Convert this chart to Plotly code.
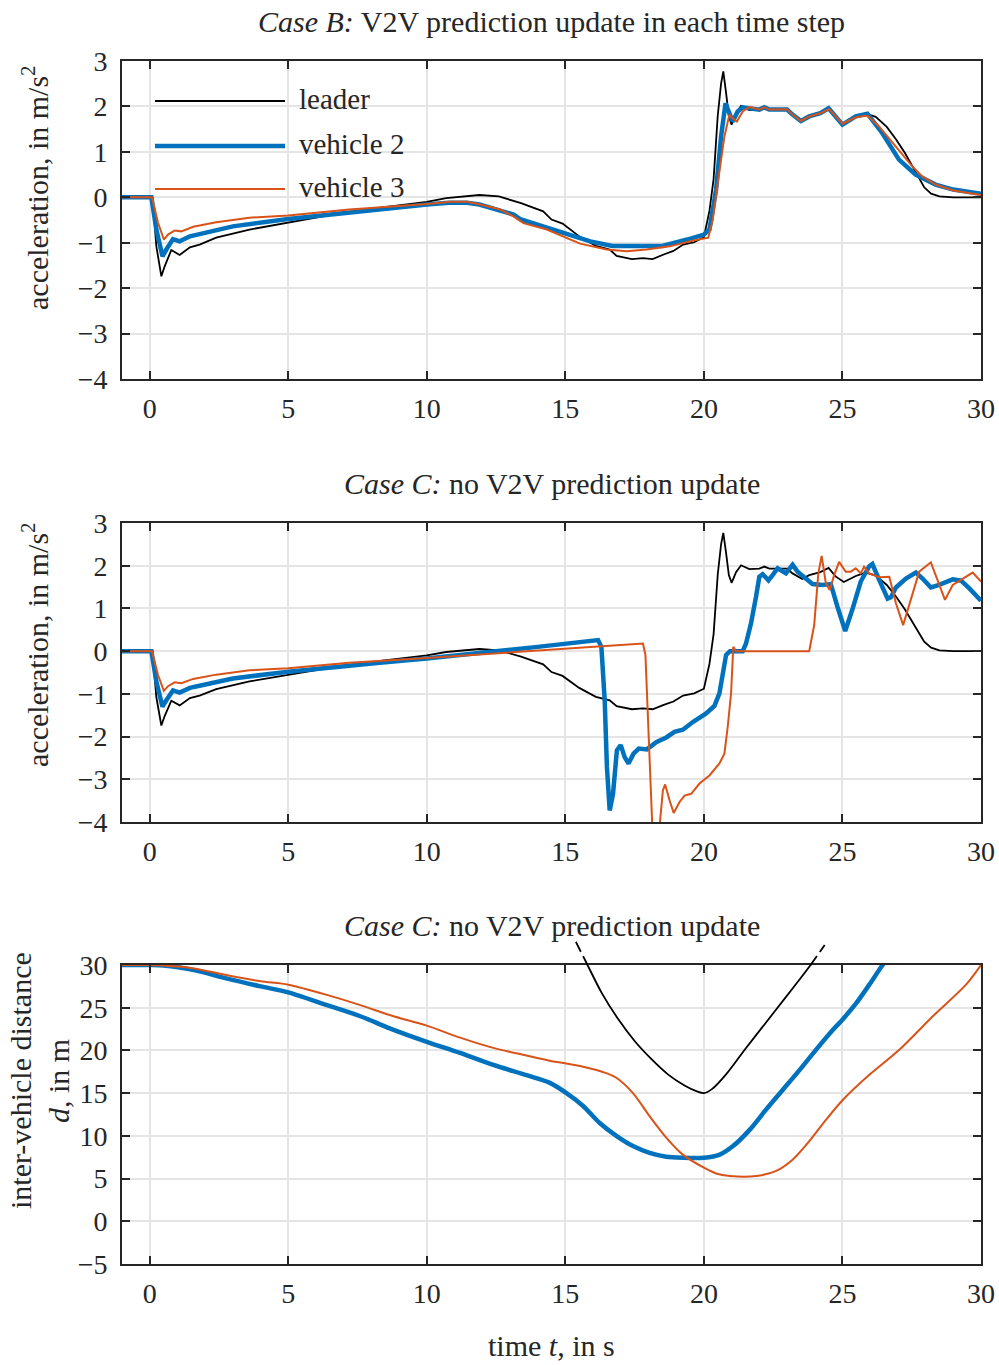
import plotly.graph_objects as go

# ---------------- data ----------------
# leader acceleration (same in both cases)
t_lead_acc = [-1, 0.1, 0.24, 0.42, 0.54, 0.78, 1.08, 1.45, 1.8, 2.4, 3.6, 5.0, 6.6, 8.4, 10.0, 10.7,
              11.9, 12.6, 13.4, 14.2, 14.5, 14.9, 15.5, 16.1, 16.6, 16.85, 17.4, 17.8, 18.15, 18.55,
              18.9, 19.25, 19.65, 20.0, 20.2, 20.35, 20.5, 20.62, 20.7, 20.8, 20.9, 21.0, 21.16, 21.34,
              21.64, 22.0, 22.18, 22.36, 23.0, 23.2, 23.55, 23.8, 24.2, 24.5, 24.75, 25.05, 25.48,
              25.85, 26.2, 26.6, 26.93, 27.25, 27.6, 27.95, 28.2, 28.5, 29.0, 30.0]
a_lead = [0, 0, -1.08, -1.74, -1.52, -1.16, -1.27, -1.1, -1.04, -0.89, -0.71, -0.55, -0.38, -0.22, -0.1,
          -0.02, 0.05, 0.02, -0.13, -0.31, -0.49, -0.58, -0.86, -1.07, -1.15, -1.29, -1.36, -1.34, -1.36,
          -1.26, -1.18, -1.04, -0.99, -0.88, -0.3, 0.4, 1.8, 2.5, 2.77, 2.3, 1.78, 1.6, 1.85, 2.01,
          1.92, 1.93, 1.98, 1.93, 1.93, 1.82, 1.69, 1.78, 1.85, 1.95, 1.75, 1.62, 1.76,
          1.84, 1.77, 1.55, 1.28, 0.98, 0.6, 0.22, 0.08, 0.02, 0.0, 0.0]

# Case B: vehicle 2
t_v2_B = [-1, 0.06, 0.24, 0.46, 0.6, 0.84, 1.08, 1.45, 1.8, 3.0, 5.0, 7.2, 8.3, 10.0, 10.8, 11.45, 11.9,
          12.65, 13.13, 13.37, 13.85, 14.9, 15.9, 16.7, 17.7, 18.5, 19.4, 20.0, 20.2, 20.44, 20.62,
          20.78, 20.92, 21.04, 21.22, 21.4, 22.0, 22.18, 22.36, 23.0, 23.2, 23.5, 23.8, 24.2, 24.5,
          25.0, 25.48, 25.9, 26.44, 27.04, 27.64, 28.36, 29.0, 30.0]
a_v2_B = [0, 0, -0.71, -1.3, -1.15, -0.92, -0.97, -0.86, -0.81, -0.64, -0.48, -0.33, -0.27, -0.16, -0.12,
          -0.12, -0.16, -0.29, -0.38, -0.48, -0.57, -0.79, -0.97, -1.07, -1.07, -1.07, -0.93, -0.82,
          -0.71, 0.17, 1.34, 2.07, 1.85, 1.67, 1.89, 1.98, 1.93, 1.98, 1.93, 1.93, 1.82, 1.68, 1.78,
          1.85, 1.96, 1.6, 1.78, 1.84, 1.41, 0.83, 0.5, 0.28, 0.17, 0.08]

# Case B: vehicle 3
t_v3_B = [-1, 0.08, 0.3, 0.51, 0.66, 0.9, 1.14, 1.57, 2.4, 3.6, 5.0, 7.2, 10.0, 10.84, 11.45, 11.92,
          12.65, 13.13, 13.49, 14.33, 15.53, 16.49, 17.21, 17.93, 18.77, 19.62, 20.16, 20.32, 20.5,
          20.74, 20.92, 21.04, 21.19, 21.4, 21.64, 22.0, 22.18, 22.36, 23.0, 23.2, 23.5, 23.8, 24.2,
          24.52, 25.0, 25.48, 25.9, 26.32, 26.92, 27.52, 27.88, 28.36, 29.0, 30.0]
a_v3_B = [0, 0, -0.56, -0.93, -0.82, -0.73, -0.75, -0.65, -0.55, -0.45, -0.4, -0.27, -0.15, -0.1, -0.1,
          -0.16, -0.27, -0.42, -0.57, -0.71, -1.02, -1.15, -1.19, -1.15, -1.08, -0.95, -0.89, -0.49,
          0.32, 1.34, 1.82, 1.74, 1.67, 1.89, 1.99, 1.93, 1.98, 1.93, 1.94, 1.82, 1.68, 1.78, 1.85,
          1.94, 1.62, 1.76, 1.8, 1.56, 1.12, 0.68, 0.46, 0.28, 0.15, 0.05]

# Case C: vehicle 2
t_v2_C = [-1, 0.06, 0.24, 0.46, 0.6, 0.84, 1.08, 1.45, 1.8, 3.0, 5.0, 7.2, 8.3, 10.0, 12.0, 14.0, 16.18,
          16.3, 16.42, 16.5, 16.6, 16.72, 16.86, 17.0, 17.14, 17.28, 17.46, 17.65, 17.94, 18.28, 18.64,
          18.94, 19.24, 19.6, 20.08, 20.38, 20.56, 20.7, 20.8, 20.94, 21.4, 21.52, 21.7, 21.88, 22.0,
          22.12, 22.33, 22.48, 22.66, 22.96, 23.2, 23.38, 23.62, 23.92, 24.28, 24.58, 24.82, 25.1,
          25.36, 25.66, 25.96, 26.08, 26.33, 26.63, 26.75, 26.93, 27.29, 27.65, 27.89, 28.19, 28.49,
          28.98, 29.28, 29.58, 30.0]
a_v2_C = [0, 0, -0.71, -1.3, -1.15, -0.92, -0.97, -0.86, -0.81, -0.64, -0.48, -0.33, -0.27, -0.17, -0.04,
          0.1, 0.26, 0.1, -1.15, -2.71, -3.73, -3.34, -2.32, -2.2, -2.48, -2.63, -2.4, -2.28, -2.3,
          -2.13, -2.02, -1.89, -1.84, -1.66, -1.46, -1.28, -0.99, -0.52, -0.09, 0.0, 0.0, 0.18, 0.65,
          1.27, 1.74, 1.8, 1.66, 1.78, 1.94, 1.82, 2.02, 1.86, 1.72, 1.57, 1.55, 1.57, 1.04, 0.47,
          0.98, 1.63, 1.98, 2.04, 1.66, 1.23, 1.26, 1.49, 1.7, 1.84, 1.7, 1.49, 1.55, 1.68, 1.65,
          1.47, 1.18]

# Case C: vehicle 3
t_v3_C = [-1, 0.08, 0.3, 0.51, 0.66, 0.9, 1.14, 1.57, 2.4, 3.6, 5.0, 7.2, 10.0, 14.0, 17.8, 17.89, 17.98,
          18.06, 18.15, 18.28, 18.4, 18.52, 18.6, 18.76, 18.91, 19.12, 19.3, 19.54, 19.84, 20.2, 20.56,
          20.74, 20.86, 20.98, 21.06, 21.16, 23.8, 23.98, 24.13, 24.25, 24.4, 24.54, 24.7, 24.88, 25.12,
          25.3, 25.48, 25.66, 25.78, 25.96, 26.33, 26.69, 26.93, 27.19, 27.47, 27.77, 28.19, 28.43,
          28.7, 28.98, 29.34, 29.7, 30.0]
a_v3_C = [0, 0, -0.56, -0.93, -0.82, -0.73, -0.75, -0.65, -0.55, -0.45, -0.4, -0.27, -0.16, 0.02, 0.18,
          -0.09, -1.54, -3.1, -4.3, -4.5, -4.1, -3.26, -3.12, -3.49, -3.79, -3.53, -3.38, -3.34, -3.1,
          -2.91, -2.63, -2.4, -1.77, -0.99, 0.1, 0.0, 0.0, 0.61, 1.82, 2.23, 1.59, 1.43, 1.78, 2.09,
          1.86, 1.86, 1.94, 1.82, 1.98, 1.82, 1.73, 1.74, 1.12, 0.61, 1.2, 1.86, 2.08, 1.66, 1.2,
          1.55, 1.7, 1.84, 1.63]

# Case C: inter-vehicle distances
t_lead_d = [15.38, 15.8, 16.3, 16.9, 17.5, 18.1, 18.7, 19.3, 19.75, 20.0, 20.3, 20.8, 21.5,
            22.2, 22.9, 23.5, 23.85, 24.36]
d_lead = [32.7, 30.0, 26.8, 23.7, 21.1, 19.0, 17.2, 15.9, 15.2, 15.0, 15.5, 17.2, 20.2,
          23.1, 26.0, 28.5, 30.0, 32.35]

t_v2_d = [-1, 0.0, 0.5, 1.6, 2.8, 4.0, 5.0, 6.4, 7.6, 8.8, 10.0, 11.2, 12.4, 13.6, 14.44, 15.04, 15.64,
          16.24, 16.84, 17.44, 18.04, 18.64, 19.24, 20.0, 20.57, 21.05, 21.65, 22.25, 22.85, 23.45,
          24.05, 24.65, 25.0, 25.49, 25.97, 26.45, 26.7]
d_v2 = [30.0, 30.0, 29.95, 29.4, 28.4, 27.5, 26.8, 25.3, 24.0, 22.4, 21.0, 19.7, 18.3, 17.1, 16.2,
        15.0, 13.5, 11.5, 10.0, 8.8, 8.0, 7.55, 7.43, 7.43, 7.8, 8.8, 10.7, 13.1, 15.4, 17.7, 20.1,
        22.4, 23.6, 25.5, 27.7, 30.0, 31.0]

t_v3_d = [-1, 0.0, 0.5, 1.6, 2.8, 4.0, 5.0, 6.4, 7.6, 8.8, 10.0, 11.2, 12.4, 13.6, 14.44, 15.64, 16.48,
          16.84, 17.44, 18.04, 18.64, 19.24, 20.0, 20.44, 20.93, 21.89, 22.61, 23.21, 23.81, 24.41,
          25.01, 25.85, 27.06, 28.26, 29.46, 30.0]
d_v3 = [30.0, 30.0, 29.95, 29.6, 28.8, 28.1, 27.7, 26.5, 25.3, 24.0, 22.9, 21.5, 20.3, 19.4, 18.8,
        18.1, 17.35, 16.8, 15.0, 12.3, 9.8, 7.8, 6.27, 5.6, 5.3, 5.3, 5.9, 7.24, 9.4, 11.9, 14.2,
        16.8, 20.1, 24.0, 27.7, 30.0]

x_ticks = [0, 5, 10, 15, 20, 25, 30]
acc_ticks = [-4, -3, -2, -1, 0, 1, 2, 3]
dist_ticks = [-5, 0, 5, 10, 15, 20, 25, 30]
series_names = ["leader", "vehicle 2", "vehicle 3"]

# ---------------- style / layout ----------------
FONT = "Liberation Serif"
FS_TICK = 28
FS_TXT = 30
TXT = "#262626"
C_LEAD, C_V2, C_V3 = "#000000", "#0072BD", "#D95319"
W_LEAD, W_V2, W_V3 = 1.8, 4.5, 2.0

W, H = 999, 1365
ML, MR, MT, MB = 122, 18, 61, 101
PH = H - MT - MB


def py(p):
    return (H - MB - p) / PH


def px(p):
    return (p - ML) / (W - ML - MR)


dom1 = [py(379), 1.0]
dom2 = [py(822), py(523)]
dom3 = [0.0, py(965)]
ext_top_px = 930
d_scale = (1264 - 965) / 35.0
dom4 = [0.0, py(ext_top_px)]
range4 = [-5, 30 + (965 - ext_top_px) / d_scale]

fig = go.Figure()


def add(t, v, color, width, xa, ya, dash=None, shape="linear"):
    fig.add_trace(go.Scatter(x=t, y=v, mode="lines", xaxis=xa, yaxis=ya, showlegend=False,
                             line=dict(color=color, width=width, dash=dash, shape=shape,
                                       smoothing=0.8 if shape == "spline" else None),
                             hoverinfo="skip"))


add(t_lead_acc, a_lead, C_LEAD, W_LEAD, "x", "y")
add(t_v2_B, a_v2_B, C_V2, W_V2, "x", "y")
add(t_v3_B, a_v3_B, C_V3, W_V3, "x", "y")

add(t_lead_acc, a_lead, C_LEAD, W_LEAD, "x2", "y2")
add(t_v2_C, a_v2_C, C_V2, W_V2, "x2", "y2")
add(t_v3_C, a_v3_C, C_V3, W_V3, "x2", "y2")

add(t_lead_d, d_lead, C_LEAD, W_LEAD, "x3", "y3", shape="spline")
add(t_v2_d, d_v2, C_V2, W_V2, "x3", "y3", shape="spline")
add(t_v3_d, d_v3, C_V3, W_V3, "x3", "y3", shape="spline")

# dashed continuation of leader distance above the axes box
dash_t, dash_d = [], []
for tt, dd in zip(t_lead_d, d_lead):
    if dd >= 30:
        dash_t.append(tt)
        dash_d.append(dd)
    elif dash_t and dash_t[-1] is not None:
        dash_t.append(None)
        dash_d.append(None)
add(dash_t, dash_d, C_LEAD, W_LEAD, "x4", "y4", dash="11px,5px")

tickfont = dict(family=FONT, size=FS_TICK, color=TXT)
common = dict(showline=True, linecolor=TXT, linewidth=1.6, mirror="ticks", ticks="inside",
              ticklen=8, tickwidth=1.5, tickcolor=TXT, showgrid=True, gridcolor="#e5e5e5",
              gridwidth=1.5, zeroline=False, tickfont=tickfont, layer="above traces",
              automargin=False)
xcommon = dict(common, range=[-1, 30], tickvals=x_ticks, ticklabelstandoff=4, domain=[0, 1])
ycommon = dict(common, ticklabelstandoff=7)

layout = dict(
    width=W, height=H, margin=dict(l=ML, r=MR, t=MT, b=MB, autoexpand=False),
    paper_bgcolor="white", plot_bgcolor="rgba(0,0,0,0)", showlegend=False,
    font=dict(family=FONT, size=FS_TXT, color=TXT),
    xaxis=dict(xcommon, anchor="y"),
    xaxis2=dict(xcommon, anchor="y2"),
    xaxis3=dict(xcommon, anchor="y3"),
    xaxis4=dict(range=[-1, 30], domain=[0, 1], anchor="y4", visible=False, showgrid=False,
                automargin=False),
    yaxis=dict(ycommon, range=[-4, 3], tickvals=acc_ticks, domain=dom1, anchor="x"),
    yaxis2=dict(ycommon, range=[-4, 3], tickvals=acc_ticks, domain=dom2, anchor="x2"),
    yaxis3=dict(ycommon, range=[-5, 30], tickvals=dist_ticks, domain=dom3, anchor="x3"),
    yaxis4=dict(range=range4, domain=dom4, anchor="x4", visible=False, showgrid=False,
                automargin=False),
)
fig.update_layout(**layout)

ann = []


def text(x, y, s, angle=0, xanchor="center", yanchor="middle", size=FS_TXT):
    ann.append(dict(x=x, y=y, xref="paper", yref="paper", text=s, showarrow=False,
                    textangle=angle, xanchor=xanchor, yanchor=yanchor,
                    font=dict(family=FONT, size=size, color=TXT)))


text(0.5, py(22), "<i>Case B:</i> V2V prediction update in each time step")
text(0.5, py(484), "<i>Case C:</i> no V2V prediction update")
text(0.5, py(925), "<i>Case C:</i> no V2V prediction update")
text(0.5, py(1345), "time <i>t</i>, in s")
text(px(35), py(188), "acceleration, in m/s<sup>2</sup>", angle=-90)
text(px(35), py(645), "acceleration, in m/s<sup>2</sup>", angle=-90)
text(px(20), py(1081), "inter-vehicle distance", angle=-90)
text(px(58), py(1081), "<i>d</i>, in m", angle=-90)

# legend drawn as shapes + text
shapes = []
leg_y = [101, 146, 189]
leg_c = [C_LEAD, C_V2, C_V3]
leg_w = [W_LEAD, W_V2, W_V3]
for name, yy, cc, ww in zip(series_names, leg_y, leg_c, leg_w):
    shapes.append(dict(type="line", xref="paper", yref="paper", x0=px(155), x1=px(285),
                       y0=py(yy), y1=py(yy), line=dict(color=cc, width=ww)))
    text(px(297), py(yy - 2), name, xanchor="left", size=29)

fig.update_layout(annotations=ann, shapes=shapes)
fig.write_html("out.html", config={"displayModeBar": False},
               post_script="document.body.style.margin='0px';document.body.style.padding='0px';"
                           "document.body.style.overflow='hidden';")
